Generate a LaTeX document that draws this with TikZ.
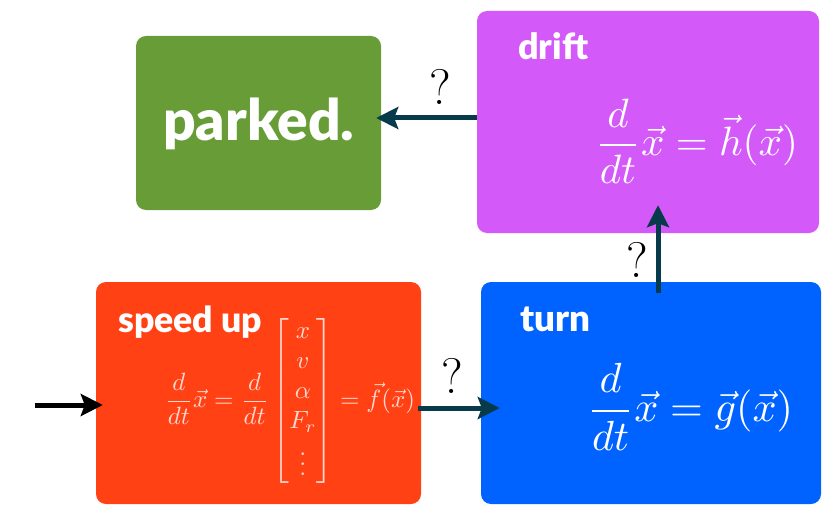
\documentclass[tikz,border=0pt]{standalone}
\usepackage{amsmath}
\usepackage{graphicx}
\usepackage{fontspec}
\usetikzlibrary{arrows.meta}
\newfontfamily\labfont{Lato Black}
\definecolor{parkgreen}{HTML}{679C37}
\definecolor{driftpurple}{HTML}{D35AF9}
\definecolor{speedred}{HTML}{FF4114}
\definecolor{turnblue}{HTML}{0063FF}
\definecolor{arrowc}{HTML}{073A4B}
\newcommand{\lbl}[2]{\resizebox{#1}{!}{\labfont #2}}
\begin{document}
\begin{tikzpicture}[x=1pt,y=-1pt,
  box/.style={rounded corners=10pt, inner sep=0pt, draw=none},
  conn/.style={line width=5pt, draw=arrowc, -{Stealth[length=22pt,width=22pt,inset=4pt]}},
  lab/.style={anchor=base west, inner sep=0pt, text=white},
  mth/.style={inner sep=0pt, text=white},
  qm/.style={inner sep=0pt, font=\fontsize{50}{50}\selectfont}]
\useasboundingbox (0,0) rectangle (834,513);
% boxes
\node[box, fill=parkgreen, minimum width=245pt, minimum height=174pt] (park) at (258.5,123) {};
\node[box, fill=driftpurple, minimum width=342pt, minimum height=222pt] (drift) at (648,122) {};
\node[box, fill=speedred, minimum width=325pt, minimum height=222pt] (speed) at (258.5,393) {};
\node[box, fill=turnblue, minimum width=340pt, minimum height=222pt] (turn) at (651,393) {};
% labels
\node[lab] (lparked) at (163,140) {\lbl{191pt}{parked.}};
\node[lab] (lspeed) at (118,332) {\lbl{144pt}{speed up}};
\node[lab] (lturn) at (520,331) {\lbl{70pt}{turn}};
\node[lab] (ldrift) at (518,60) {\lbl{70pt}{drift}};
% formulas
\node[mth] (mdrift) at (696.5,141) {\resizebox{203pt}{!}{$\displaystyle \frac{d}{dt}\vec{x} = \vec{h}(\vec{x})$}};
\node[mth] (mturn) at (690,407) {\resizebox{206pt}{!}{$\displaystyle \frac{d}{dt}\vec{x} = \vec{g}(\vec{x})$}};
\node[mth, text opacity=0.8] (mspeed) at (290,401) {\resizebox{250pt}{!}{$\displaystyle \frac{d}{dt}\vec{x} = \frac{d}{dt}\begin{bmatrix} x\\ v\\ \alpha\\ F_r\\ \vdots \end{bmatrix} = \vec{f}(\vec{x})$}};
% connectors
\coordinate (entry) at (35,405);
\draw[conn, draw=black] (entry) -- ([xshift=7pt,yshift=-12pt]speed.west);
\draw[conn] ([xshift=-3pt,yshift=-15pt]speed.east) -- ([xshift=19pt,yshift=-15pt]turn.west);
\draw[conn] ([xshift=7pt,yshift=-11pt]turn.north) -- ([xshift=10pt,yshift=28pt]drift.south);
\draw[conn] ([yshift=4pt]drift.west) -- ([xshift=-5pt,yshift=5pt]park.east);
% question marks
\node[qm] (q1) at (452,376) {?};
\node[qm] (q2) at (637,260) {?};
\node[qm] (q3) at (440,87) {?};
\end{tikzpicture}
\end{document}
